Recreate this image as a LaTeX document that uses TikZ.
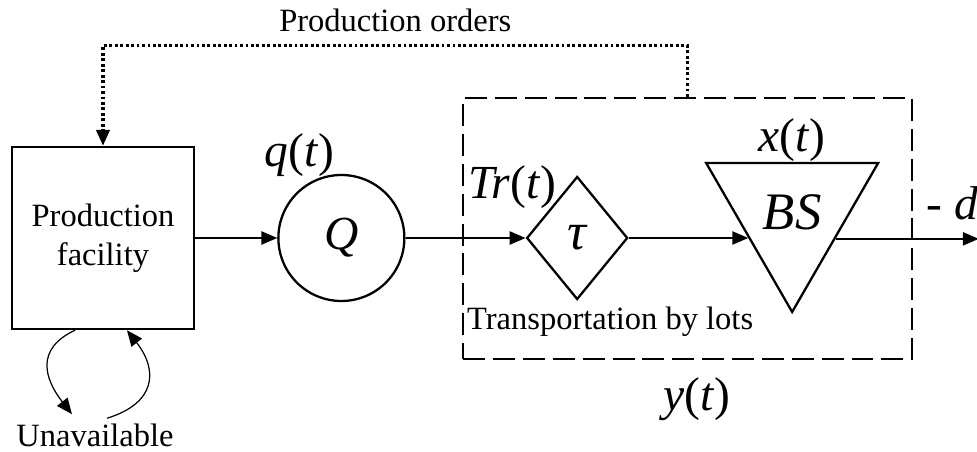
\documentclass[tikz,border=0pt]{standalone}
\usepackage{fontspec}
\setmainfont{Liberation Serif}
\usetikzlibrary{shapes.geometric, arrows.meta, positioning}

\newcommand{\txtsize}{\fontsize{18.5}{22}\selectfont}
\newcommand{\varsize}{\fontsize{27}{30}\selectfont}
\newcommand{\symsize}{\fontsize{30}{33}\selectfont}

\begin{document}
\begin{tikzpicture}[
    font=\txtsize,
    plant/.style={rectangle, draw, align=center, line width=1.4pt,
                  minimum width=3.64cm, minimum height=3.64cm},
    buffer/.style={circle, draw, line width=1.3pt, minimum size=2.52cm,
                   font=\varsize\itshape},
    delay/.style={diamond, draw, line width=1.3pt, inner sep=0pt,
                  minimum width=2.02cm, minimum height=2.46cm,
                  font=\symsize\itshape},
    stock/.style={regular polygon, regular polygon sides=3,
                  shape border rotate=180, draw, line width=1.3pt,
                  inner sep=0pt, minimum size=3.97cm, font=\symsize\itshape},
    sysbox/.style={rectangle, draw, line width=1.4pt,
                   dash pattern=on 12.5pt off 4.5pt,
                   minimum width=8.98cm, minimum height=5.22cm},
    varlab/.style={font=\varsize, inner sep=0pt},
    arr/.style={-{Triangle[length=9pt, width=7.5pt]}, line width=1pt},
    loop/.style={-{Triangle[length=9pt, width=7.5pt]}, line width=0.7pt},
    order/.style={-{Triangle[length=9pt, width=7.5pt]}, line width=1.8pt,
                  dash pattern=on 1.6pt off 1.5pt},
]
\useasboundingbox (0,0) rectangle (19.54,-9.04);

\node[plant] (fac) at (2.06,-4.76) {Production\\facility};
\node[buffer, right=1.64cm of fac] (que) {Q};
\node[delay, right=2.4cm of que] (dia) {τ};
\node[stock] (bs) at ([xshift=4.3cm, yshift=0.506cm]dia.center) {BS};
\node[sysbox] (sys) at ([xshift=2.21cm, yshift=0.19cm]dia.center) {};
\coordinate[right=2.86cm of bs.329.5] (sink);

\node[below=1.76cm of fac, xshift=-0.16cm] (unav) {Unavailable};

% flow of material
\draw[arr] (fac) -- (que);
\draw[arr] (que) -- (dia);
\draw[arr] (dia.east) -- (dia.east -| bs.210.5);
\draw[arr] (bs.329.5) -- (sink);

% orders back to the plant
\draw[order] (sys.north) -- ++(0,1.02)
    -| node[pos=0.25, above=0.14cm]{Production orders} (fac.north);

% breakdowns
\draw[loop] ([xshift=-0.56cm]fac.south) to[out=205, in=128, looseness=1.35]
    ([xshift=-0.46cm, yshift=0.08cm]unav.north);
\draw[loop] ([xshift=0.24cm]unav.north) to[out=17, in=-52, looseness=1.45]
    ([xshift=0.48cm]fac.south);

\node[varlab] at ([xshift=-0.84cm, yshift=0.38cm]que.north) {\textit{q}(\textit{t})};
\node[varlab] at ([xshift=-1.3cm, yshift=-0.24cm]dia.north) {\textit{Tr}(\textit{t})};
\node[varlab] at ([yshift=1.45cm]bs.center) {\textit{x}(\textit{t})};
\node[varlab] at ([xshift=-0.52cm, yshift=0.72cm]sink) {- \textit{d}};
\node[varlab] at ([xshift=0.19cm, yshift=-0.78cm]sys.south) {\textit{y}(\textit{t})};
\node at ([xshift=0.66cm, yshift=-0.42cm]dia.south) {Transportation by lots};
\end{tikzpicture}
\end{document}
